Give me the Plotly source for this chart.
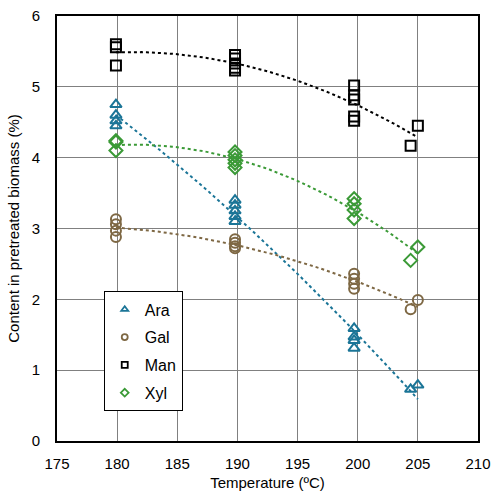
import numpy as np
import plotly.graph_objects as go

# Data
ara_T = [179.9]*4 + [189.8]*5 + [199.7]*4 + [204.4, 205.0]
ara_v = [4.75, 4.60, 4.52, 4.45, 3.40, 3.33, 3.25, 3.17, 3.10, 1.59, 1.47, 1.42, 1.31, 0.73, 0.79]

gal_T = [179.9]*4 + [189.8]*4 + [199.7]*4 + [204.4, 205.0]
gal_v = [3.13, 3.06, 2.97, 2.88, 2.85, 2.80, 2.75, 2.72, 2.36, 2.29, 2.22, 2.15, 1.86, 1.99]

man_T = [179.9]*3 + [189.8]*5 + [199.7]*5 + [204.4, 205.0]
man_v = [5.60, 5.56, 5.30, 5.45, 5.40, 5.33, 5.27, 5.23, 5.02, 4.88, 4.82, 4.58, 4.52, 4.17, 4.45]

xyl_T = [179.9]*3 + [189.8]*5 + [199.7]*4 + [204.4, 205.0]
xyl_v = [4.24, 4.22, 4.10, 4.08, 4.03, 3.97, 3.92, 3.86, 3.42, 3.35, 3.26, 3.14, 2.55, 2.74]

series = [
    ("Ara", ara_T, ara_v, "#1b7597", "triangle-up-open"),
    ("Gal", gal_T, gal_v, "#7e6844", "circle-open"),
    ("Man", man_T, man_v, "#000000", "square-open"),
    ("Xyl", xyl_T, xyl_v, "#3b9a37", "diamond-open"),
]

fig = go.Figure()

# Trend lines (quadratic least-squares fits, as in the original)
for name, T, v, col, sym in series:
    c = np.polyfit(T, v, 2)
    xs = np.linspace(min(T), max(T), 60)
    fig.add_trace(go.Scatter(x=xs, y=np.polyval(c, xs), mode="lines",
                             line=dict(color=col, width=2, dash="dot"),
                             showlegend=False, hoverinfo="skip"))

for name, T, v, col, sym in series:
    fig.add_trace(go.Scatter(x=T, y=v, mode="markers", name=name, showlegend=False,
                             marker=dict(symbol=sym, size=10, color=col,
                                         line=dict(color=col, width=2))))
    # legend entry with the smaller marker used in the original legend
    fig.add_trace(go.Scatter(x=[None], y=[None], mode="markers", name=name, legendgroup=name,
                             marker=dict(symbol=sym, size=6, color=col,
                                         line=dict(color=col, width=1.8))))

fnt = dict(family="Liberation Sans, Arial, sans-serif", size=15, color="#000")
fig.update_layout(
    width=493, height=495,
    margin=dict(l=57, r=15, t=16, b=54),
    paper_bgcolor="white", plot_bgcolor="white",
    font=fnt,
    showlegend=True,
    legend=dict(x=0.111, y=0.352, xanchor="left", yanchor="top",
                bgcolor="white", bordercolor="#000", borderwidth=1,
                font=dict(size=16), tracegroupgap=4, itemwidth=30),
    xaxis=dict(range=[175, 210], dtick=5, tick0=175, showgrid=True,
               gridcolor="#808080", gridwidth=1, zeroline=False,
               showline=True, linecolor="#000", linewidth=2, mirror=True,
               ticks="", ticklabelstandoff=8, automargin=False,
               title=dict(text="Temperature (ºC)", standoff=6, font=dict(size=15))),
    yaxis=dict(range=[0, 6], dtick=1, showgrid=True,
               gridcolor="#808080", gridwidth=1, zeroline=False,
               showline=True, linecolor="#000", linewidth=2, mirror=True,
               ticks="", ticklabelstandoff=12, automargin=False,
               title=dict(text="Content in pretreated biomass (%)", standoff=8, font=dict(size=15))),
)

fig.write_html("out.html")
